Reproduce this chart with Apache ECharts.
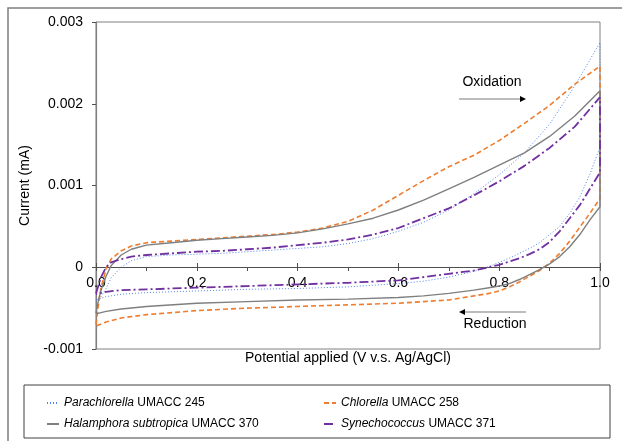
<!DOCTYPE html>
<html>
<head>
<meta charset="utf-8">
<script src="https://cdn.jsdelivr.net/npm/echarts@6/dist/echarts.min.js"></script>
<style>
  html, body { margin: 0; padding: 0; background: #fff; }
  #chart { width: 622px; height: 441px; }
</style>
</head>
<body>
<div id="chart"></div>
<script>
// potential grid (V) for the forward (oxidation) and reverse (reduction) sweeps
const fwdV = [0, 0.005, 0.01, 0.02, 0.03, 0.05, 0.07, 0.1, 0.15, 0.2, 0.25, 0.3, 0.35, 0.4, 0.45, 0.5, 0.55, 0.6, 0.65, 0.7, 0.75, 0.8, 0.85, 0.9, 0.95, 1.0];
const revV = [1.0, 0.98, 0.96, 0.94, 0.92, 0.9, 0.88, 0.86, 0.84, 0.82, 0.8, 0.78, 0.75, 0.7, 0.65, 0.6, 0.5, 0.4, 0.3, 0.2, 0.1, 0.05, 0.02, 0];

// current (mA)
const paraFwd = [-0.0004, -0.00039, -0.00036, -0.00026, -0.00013, 0, 0.00008, 0.00013, 0.00015, 0.00016, 0.00017, 0.00019, 0.00021, 0.00023, 0.00025, 0.00029, 0.00035, 0.00044, 0.00055, 0.0007, 0.0009, 0.00113, 0.0014, 0.00175, 0.00222, 0.00275];
const paraRev = [0.00147, 0.00114, 0.00086, 0.00066, 0.0005, 0.0004, 0.0003, 0.00023, 0.00017, 0.00011, 0.00006, 0.00001, -0.00005, -0.00012, -0.00017, -0.0002, -0.00024, -0.00026, -0.00027, -0.00029, -0.00031, -0.00033, -0.00036, -0.0004];

const chloFwd = [-0.0007, -0.00045, -0.00025, -0.00002, 0.0001, 0.0002, 0.00026, 0.0003, 0.00032, 0.00034, 0.00036, 0.00038, 0.0004, 0.00043, 0.00048, 0.00056, 0.0007, 0.00088, 0.00106, 0.00123, 0.00137, 0.00155, 0.00176, 0.00198, 0.00224, 0.00246];
const chloRev = [0.00084, 0.00066, 0.00049, 0.00032, 0.00017, 0.00005, -0.00004, -0.00011, -0.00018, -0.00024, -0.00029, -0.00032, -0.00035, -0.0004, -0.00042, -0.00044, -0.00046, -0.00048, -0.0005, -0.00053, -0.00058, -0.00062, -0.00067, -0.00072];

const halaFwd = [-0.00056, -0.0004, -0.00028, -0.00011, 0.00002, 0.00015, 0.00022, 0.00027, 0.0003, 0.00033, 0.00035, 0.00037, 0.00039, 0.00042, 0.00047, 0.00053, 0.0006, 0.0007, 0.00082, 0.00096, 0.0011, 0.00125, 0.0014, 0.0016, 0.00185, 0.00216];
const halaRev = [0.00074, 0.00058, 0.0004, 0.00025, 0.00013, 0.00004, -0.00003, -0.00009, -0.00015, -0.0002, -0.00023, -0.00025, -0.00028, -0.00032, -0.00035, -0.00037, -0.00039, -0.0004, -0.00042, -0.00044, -0.00048, -0.00051, -0.00054, -0.00057];

const synFwd = [-0.00032, -0.00022, -0.00012, 0, 0.00006, 0.0001, 0.00013, 0.00015, 0.00017, 0.00019, 0.0002, 0.00022, 0.00024, 0.00027, 0.0003, 0.00034, 0.0004, 0.00048, 0.0006, 0.00072, 0.00088, 0.00105, 0.00124, 0.00146, 0.00172, 0.00208];
const synRev = [0.00116, 0.00096, 0.00076, 0.0006, 0.00044, 0.00031, 0.00022, 0.00016, 0.00011, 0.00007, 0.00003, 0, -0.00004, -0.00008, -0.00012, -0.00016, -0.00019, -0.00021, -0.00023, -0.00025, -0.00027, -0.00028, -0.0003, -0.00033];

const xTicks = [0, 0.2, 0.4, 0.6, 0.8, 1.0];
const yTicks = [-0.001, 0, 0.001, 0.002, 0.003];

const FONT = "Liberation Sans";

// join both sweeps into one closed loop
function loop(fwd, rev) {
  const pts = [];
  fwdV.forEach((v, i) => pts.push([v, fwd[i]]));
  revV.forEach((v, i) => pts.push([v, rev[i]]));
  return pts;
}

function mkSeries(name, fwd, rev, color, type, width) {
  return {
    name: name,
    type: "line",
    data: loop(fwd, rev),
    showSymbol: false,
    symbol: "none",
    lineStyle: { color: color, type: type, width: width },
    itemStyle: { color: color },
    animation: false
  };
}

// italic genus name in legend
function legendFmt(name) {
  const k = name.indexOf(" UMACC");
  return "{i|" + name.slice(0, k) + "}" + name.slice(k);
}
const legendText = {
  fontFamily: FONT, fontSize: 12, color: "#000",
  rich: { i: { fontFamily: FONT, fontSize: 12, fontStyle: "italic", color: "#000" } }
};

let chart = echarts.init(document.getElementById("chart"), null, { renderer: "canvas" });

// plot area: left 96, right 600, top 22, bottom 349 ; zero line at y=267
const xBase = {
  type: "value",
  min: xTicks[0],
  max: xTicks[xTicks.length - 1],
  interval: 0.2,
  offset: -82,
  position: "bottom",
  splitLine: { show: false }
};

chart.setOption({
  animation: false,
  grid: {
    left: 96, right: 22, top: 22, bottom: 92,
    containLabel: false, outerBoundsMode: "none",
    show: true, borderColor: "#808080", borderWidth: 1
  },
  xAxis: [
    Object.assign({}, xBase, {
      name: "Potential applied (V v.s. Ag/AgCl)",
      nameLocation: "middle",
      nameGap: 84,
      nameTextStyle: { fontFamily: FONT, fontSize: 14, color: "#000" },
      axisLine: { show: true, onZero: false, lineStyle: { color: "#505050", width: 1.2 } },
      axisTick: { show: true, inside: false, length: 4, lineStyle: { color: "#505050" } },
      minorTick: { show: true, splitNumber: 2, length: 4, lineStyle: { color: "#505050" } },
      axisLabel: {
        fontFamily: FONT, fontSize: 14, color: "#000", margin: 9,
        formatter: v => v.toFixed(1)
      }
    }),
    // upper half of the crossing major ticks
    Object.assign({}, xBase, {
      axisLine: { show: false, onZero: false },
      axisTick: { show: true, inside: true, length: 4, lineStyle: { color: "#505050" } },
      axisLabel: { show: false }
    })
  ],
  yAxis: {
    type: "value",
    min: yTicks[0],
    max: yTicks[yTicks.length - 1],
    interval: 0.001,
    name: "Current (mA)",
    nameLocation: "middle",
    nameGap: 59,
    nameTextStyle: { fontFamily: FONT, fontSize: 14, color: "#000" },
    axisLine: { show: true, onZero: false, lineStyle: { color: "#808080", width: 1.2 } },
    axisTick: { show: true, inside: false, length: 4, lineStyle: { color: "#505050" } },
    splitLine: { show: false },
    axisLabel: {
      fontFamily: FONT, fontSize: 14, color: "#000", margin: 13,
      formatter: v => (Math.abs(v) < 1e-9 ? "0" : v.toFixed(3))
    }
  },
  legend: [
    {
      data: ["Parachlorella UMACC 245", "Halamphora subtropica UMACC 370"],
      orient: "vertical",
      left: 41, top: 392,
      itemWidth: 12, itemHeight: 10, itemGap: 9,
      itemStyle: { opacity: 0 },
      formatter: legendFmt,
      textStyle: legendText
    },
    {
      data: ["Chlorella UMACC 258", "Synechococcus UMACC 371"],
      orient: "vertical",
      left: 318, top: 392,
      itemWidth: 12, itemHeight: 10, itemGap: 9,
      itemStyle: { opacity: 0 },
      formatter: legendFmt,
      textStyle: legendText
    }
  ],
  series: [
    mkSeries("Parachlorella UMACC 245", paraFwd, paraRev, "#4f81e6", [1, 2], 1),
    mkSeries("Chlorella UMACC 258", chloFwd, chloRev, "#ed7d31", [5, 3], 1.6),
    mkSeries("Halamphora subtropica UMACC 370", halaFwd, halaRev, "#7f7f7f", "solid", 1.4),
    mkSeries("Synechococcus UMACC 371", synFwd, synRev, "#7030a0", [9, 3, 2, 3], 1.8)
  ],
  graphic: [
    // outer frame
    { type: "rect", shape: { x: 8, y: 8, width: 700, height: 500 }, style: { fill: null, stroke: "#7f7f7f", lineWidth: 1.5 }, silent: true },
    // legend box
    { type: "rect", shape: { x: 24, y: 385, width: 586, height: 53 }, style: { fill: null, stroke: "#404040", lineWidth: 1 }, silent: true },
    // oxidation note
    { type: "text", x: 492, y: 82, style: { text: "Oxidation", fontFamily: FONT, fontSize: 14, fill: "#000", textAlign: "center", textVerticalAlign: "middle" } },
    { type: "line", shape: { x1: 459, y1: 99, x2: 521, y2: 99 }, style: { stroke: "#a6a6a6", lineWidth: 1.5 } },
    { type: "polygon", shape: { points: [[526, 99], [520, 96], [520, 102]] }, style: { fill: "#000" } },
    // reduction note
    { type: "text", x: 495, y: 324, style: { text: "Reduction", fontFamily: FONT, fontSize: 14, fill: "#000", textAlign: "center", textVerticalAlign: "middle" } },
    { type: "line", shape: { x1: 464, y1: 312, x2: 526, y2: 312 }, style: { stroke: "#a6a6a6", lineWidth: 1.5 } },
    { type: "polygon", shape: { points: [[459, 312], [465, 309], [465, 315]] }, style: { fill: "#000" } }
  ]
});
</script>
</body>
</html>
